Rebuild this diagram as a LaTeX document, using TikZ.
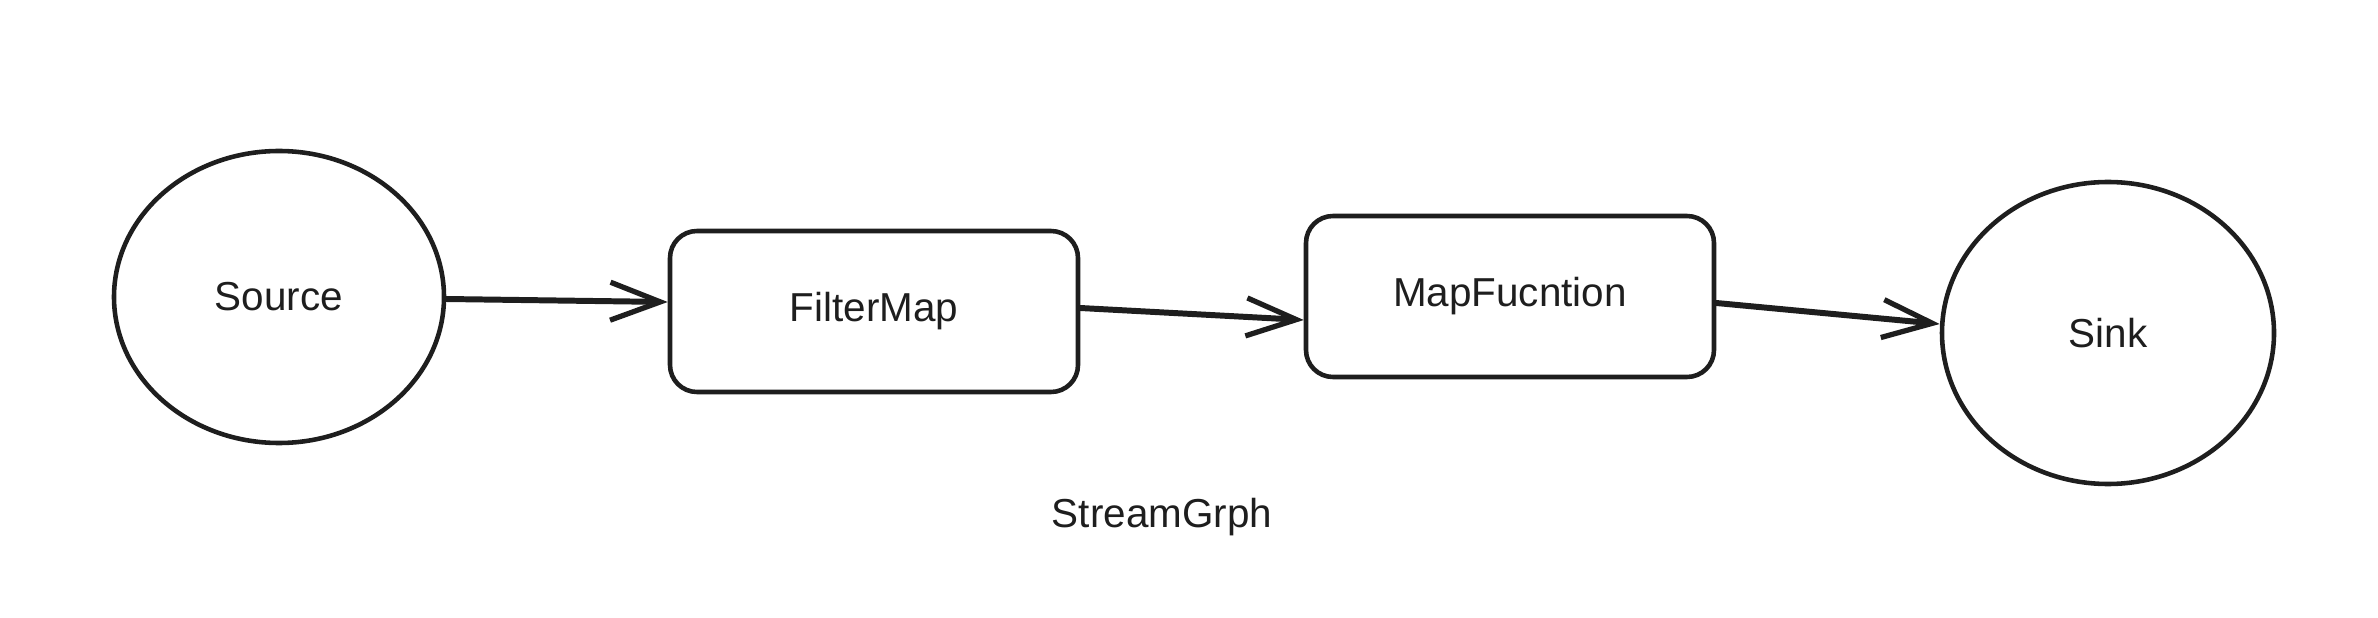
\documentclass[tikz,border=0pt]{standalone}
\usepackage{fontspec}
\setmainfont{Liberation Sans}
\usetikzlibrary{shapes.geometric,arrows.meta}
\definecolor{ink}{HTML}{1E1E1E}
\tikzset{
  txt/.style={font=\fontsize{11.5}{13}\selectfont, text=ink},
  blob/.style={ellipse, draw=ink, line width=1.3pt, inner sep=0pt, txt},
  card/.style={rectangle, rounded corners=0.27cm, draw=ink, line width=1.3pt,
     minimum width=4.08cm, minimum height=1.61cm, inner sep=0pt, txt},
  flow/.style={draw=ink, line width=1.7pt, line cap=round,
     -{Straight Barb[length=0.5cm,width=0.38cm,line width=1.5pt]}}
}
\begin{document}
\begin{tikzpicture}
\useasboundingbox (0,0) rectangle (23.78,-6.18);
\node[blob, minimum width=3.30cm, minimum height=2.92cm] (src) at (2.79,-2.97) {Source};
\node[card] (fm) at (8.74,-3.115) {FilterMap};
\node[card] (mf) at (15.10,-2.965) {MapFucntion};
\node[blob, minimum width=3.32cm, minimum height=3.02cm] (sink) at (21.08,-3.33) {Sink};
\node[txt] (title) at (11.62,-5.17) {StreamGrph};
\draw[flow] ([yshift=-0.02cm]src.east) -- ([yshift=0.095cm]fm.west);
\draw[flow] ([yshift=0.035cm]fm.east) -- ([yshift=-0.235cm]mf.west);
\draw[flow] ([yshift=-0.065cm]mf.east) -- ([yshift=0.09cm]sink.west);
\end{tikzpicture}
\end{document}
